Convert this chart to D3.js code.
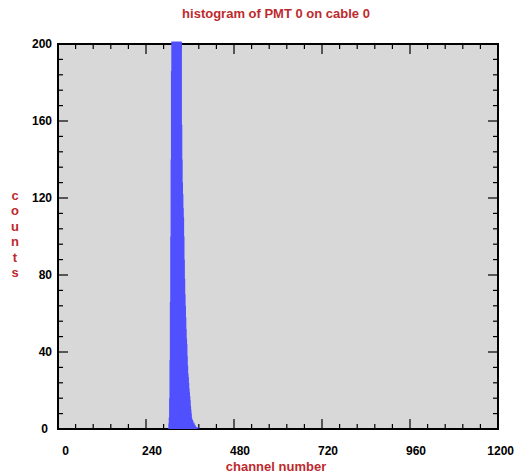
<!DOCTYPE html>
<html>
<head>
<meta charset="utf-8">
<script src="https://cdn.jsdelivr.net/npm/d3@7"></script>
<style>
  body { margin: 0; background: #fff; }
  text { font-family: "Liberation Sans", Arial, sans-serif; font-weight: bold; }
</style>
</head>
<body>
<div id="chart"></div>
<script>
// histogram data: one bin per channel, starting at firstChannel
const firstChannel = 300;
const counts = [
  0, 3, 6, 16, 36, 66, 100, 140, 186, 212,            // 300-309
  226, 248, 270, 290, 305, 318, 326, 330, 331, 328,   // 310-319
  322, 314, 305, 296, 286, 276, 266, 256, 246, 238,   // 320-329
  230, 223, 217, 212, 208, 205, 203, 201, 158, 140,   // 330-339
  128, 122, 115, 110, 100, 88, 78, 70, 64, 58,        // 340-349
  52, 47, 44, 38, 33, 29, 27, 24, 21, 19,             // 350-359
  17, 15, 12, 10, 8, 6, 5, 5, 4, 4,                   // 360-369
  3, 3, 3, 2, 2, 2, 1, 1, 1, 1,                       // 370-379
  0, 1, 0, 1, 0, 1, 0                                 // 380-386
];

const xMajor = [0, 240, 480, 720, 960, 1200];
const yMajor = [0, 40, 80, 120, 160, 200];
const xMinorStep = 48;
const yMinorStep = 8;

const title = "histogram of PMT 0 on cable 0";
const xTitle = "channel number";
const yTitle = "counts";

const width = 521, height = 476;
const margin = { top: 44, right: 23, bottom: 47, left: 58 };
const red = "#bd2a2e";

const svg = d3.select("#chart").append("svg")
  .attr("width", width)
  .attr("height", height);

const x = d3.scaleLinear().domain([0, 1200]).range([margin.left, width - margin.right]);
const y = d3.scaleLinear().domain([0, 200]).range([height - margin.bottom, margin.top]);

// plot background
svg.append("rect")
  .attr("x", x(0)).attr("y", y(200))
  .attr("width", x(1200) - x(0)).attr("height", y(0) - y(200))
  .attr("fill", "#d8d8d8");

// ticks on all four sides
const xMinor = d3.range(0, 1200 + 1, xMinorStep);
const yMinor = d3.range(0, 200 + 1, yMinorStep);
const tickLen = v => (v === 0 ? 5 : 5);
const g = svg.append("g").attr("stroke", "#000").attr("stroke-width", 1.2);

xMinor.forEach(v => {
  const len = xMajor.includes(v) ? 10 : 5;
  g.append("line").attr("x1", x(v)).attr("x2", x(v)).attr("y1", y(0)).attr("y2", y(0) - len);
  g.append("line").attr("x1", x(v)).attr("x2", x(v)).attr("y1", y(200)).attr("y2", y(200) + len);
});
yMinor.forEach(v => {
  const len = yMajor.includes(v) ? 10 : 5;
  g.append("line").attr("y1", y(v)).attr("y2", y(v)).attr("x1", x(0)).attr("x2", x(0) + len);
  g.append("line").attr("y1", y(v)).attr("y2", y(v)).attr("x1", x(1200)).attr("x2", x(1200) - len);
});

// frame
svg.append("rect")
  .attr("x", x(0)).attr("y", y(200))
  .attr("width", x(1200) - x(0)).attr("height", y(0) - y(200))
  .attr("fill", "none").attr("stroke", "#000").attr("stroke-width", 2);

// histogram, clipped just above the top of the frame
svg.append("clipPath").attr("id", "clip")
  .append("rect")
  .attr("x", x(0)).attr("y", y(200) - 2.5)
  .attr("width", x(1200) - x(0)).attr("height", y(0) - y(200) + 2.5);

const bins = counts.map((c, i) => ({ ch: firstChannel + i, c }));
bins.push({ ch: firstChannel + counts.length, c: 0 });

const area = d3.area()
  .curve(d3.curveStepAfter)
  .x(d => x(d.ch))
  .y0(y(0))
  .y1(d => y(d.c));

svg.append("path")
  .datum(bins)
  .attr("clip-path", "url(#clip)")
  .attr("d", area)
  .attr("fill", "#5050ff");

// tick labels
svg.append("g").selectAll("text")
  .data(xMajor)
  .join("text")
  .attr("x", d => x(d) + (d === 0 ? 11 : 16))
  .attr("y", 455)
  .attr("text-anchor", "end")
  .attr("font-size", 12)
  .attr("fill", "#000")
  .text(d => d);

svg.append("g").selectAll("text")
  .data(yMajor)
  .join("text")
  .attr("x", d => (d === 0 ? 48 : 52))
  .attr("y", d => y(d) + 4.3)
  .attr("text-anchor", "end")
  .attr("font-size", 12)
  .attr("fill", "#000")
  .text(d => d);

// titles
svg.append("text")
  .attr("x", 276).attr("y", 18)
  .attr("text-anchor", "middle")
  .attr("font-size", 13)
  .attr("fill", red)
  .text(title);

svg.append("text")
  .attr("x", 276).attr("y", 471)
  .attr("text-anchor", "middle")
  .attr("font-size", 13)
  .attr("fill", red)
  .text(xTitle);

svg.append("g").selectAll("text")
  .data(yTitle.split(""))
  .join("text")
  .attr("x", 15)
  .attr("y", (d, i) => 200 + i * 15.4)
  .attr("text-anchor", "middle")
  .attr("font-size", 13)
  .attr("fill", red)
  .text(d => d);
</script>
</body>
</html>
